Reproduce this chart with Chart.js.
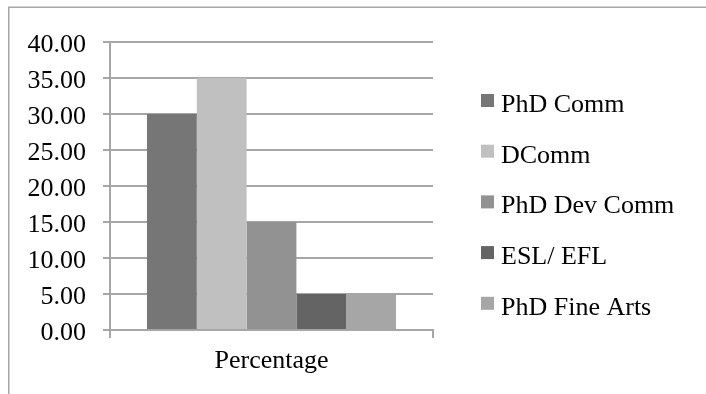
<!DOCTYPE html>
<html>
<head>
<meta charset="utf-8">
<script src="https://cdn.jsdelivr.net/npm/chart.js@4/dist/chart.umd.min.js"></script>
<style>
  html, body { margin: 0; padding: 0; background: #ffffff; }
  #wrap { position: relative; width: 706px; height: 394px; }
</style>
</head>
<body>
<div id="wrap"><canvas id="chart"></canvas></div>
<script>
// Categories and series
const categories = ['Percentage'];
const phdComm = [30.00];
const dComm = [35.00];
const phdDevComm = [15.00];
const eslEfl = [5.00];
const phdFineArts = [5.00];
const seriesNames = ['PhD Comm', 'DComm', 'PhD Dev Comm', 'ESL/ EFL', 'PhD Fine Arts'];
const seriesColors = ['#767676', '#c0c0c0', '#929292', '#646464', '#a6a6a6'];
const seriesData = [phdComm, dComm, phdDevComm, eslEfl, phdFineArts];

// Value axis
const yMin = 0;
const yMax = 40;
const yStep = 5;

const FONT = 'Liberation Serif, Times New Roman, serif';
const FONT_SIZE = 26;
const LINE = '#a6a6a6';

// Outer frame of the chart area (left and top edges visible)
const framePlugin = {
  id: 'frame',
  beforeDraw(chart) {
    const ctx = chart.ctx;
    ctx.save();
    ctx.strokeStyle = LINE;
    ctx.lineWidth = 1.5;
    ctx.beginPath();
    ctx.moveTo(8.75, chart.height + 2);
    ctx.lineTo(8.75, 7.25);
    ctx.lineTo(chart.width + 2, 7.25);
    ctx.stroke();
    ctx.restore();
  }
};

// Legend column to the right of the plot
const sideLegend = {
  id: 'sideLegend',
  afterDraw(chart) {
    const ctx = chart.ctx;
    const boxX = 481, boxSize = 13, textX = 501;
    const firstTop = 94, step = 50.7;
    ctx.save();
    ctx.font = FONT_SIZE + 'px ' + FONT;
    ctx.textBaseline = 'alphabetic';
    ctx.textAlign = 'left';
    chart.data.datasets.forEach((ds, i) => {
      const top = firstTop + i * step;
      ctx.fillStyle = ds.backgroundColor;
      ctx.fillRect(boxX, top, boxSize, boxSize);
      ctx.fillStyle = '#000000';
      ctx.fillText(ds.label, textX, top + 18);
    });
    ctx.restore();
  }
};

new Chart(document.getElementById('chart'), {
  type: 'bar',
  data: {
    labels: categories,
    datasets: seriesNames.map((name, i) => ({
      label: name,
      data: seriesData[i],
      backgroundColor: seriesColors[i],
      borderWidth: 0,
      categoryPercentage: 0.771,
      barPercentage: 1.0
    }))
  },
  options: {
    responsive: true,
    maintainAspectRatio: false,
    animation: false,
    devicePixelRatio: 1,
    layout: { padding: { left: 0, top: 42, right: 273, bottom: 0 } },
    plugins: {
      legend: { display: false },
      tooltip: { enabled: false }
    },
    scales: {
      x: {
        grid: {
          display: true,
          offset: true,
          drawOnChartArea: false,
          drawTicks: true,
          tickLength: 8,
          color: LINE,
          lineWidth: 2
        },
        border: { display: true, color: LINE, width: 2 },
        ticks: {
          color: '#000000',
          font: { family: FONT, size: FONT_SIZE },
          padding: 8
        },
        afterFit(scale) { scale.height = 64; }
      },
      y: {
        min: yMin,
        max: yMax,
        grid: {
          color: LINE,
          lineWidth: 2,
          drawTicks: true,
          tickLength: 7
        },
        border: { display: true, color: LINE, width: 2 },
        ticks: {
          stepSize: yStep,
          color: '#000000',
          font: { family: FONT, size: FONT_SIZE },
          padding: 17,
          labelOffset: 3,
          callback: (v) => Number(v).toFixed(2)
        },
        afterFit(scale) { scale.width = 110; }
      }
    }
  },
  plugins: [framePlugin, sideLegend]
});
</script>
</body>
</html>
